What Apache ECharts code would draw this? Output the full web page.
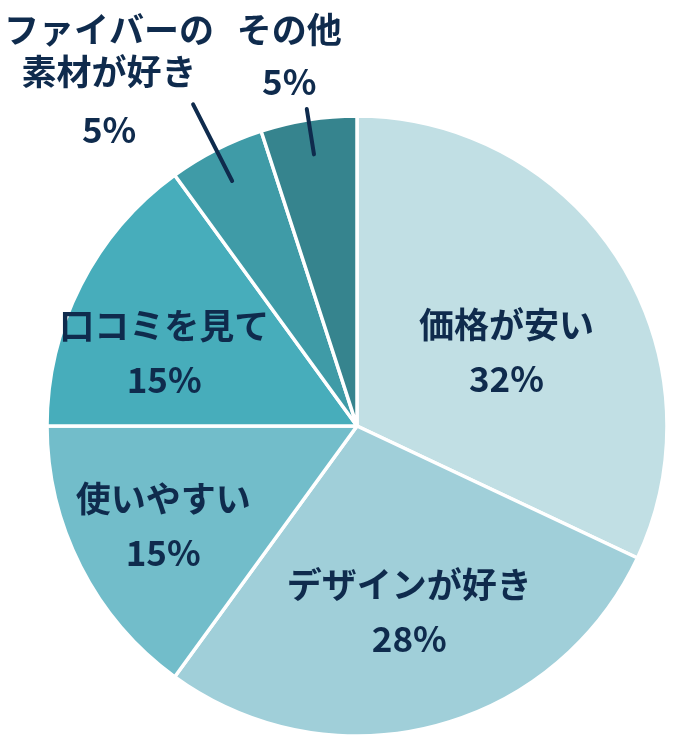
<!DOCTYPE html>
<html>
<head>
<meta charset="utf-8">
<script src="https://cdn.jsdelivr.net/npm/echarts@6/dist/echarts.min.js"></script>
<style>
html,body{margin:0;padding:0;background:#fff;}
#chart{width:676px;height:747px;}
</style>
</head>
<body>
<div id="chart"></div>
<script>
// Data
const categories = ['価格が安い', 'デザインが好き', '使いやすい', '口コミを見て', 'ファイバーの\n素材が好き', 'その他'];
const values = [32, 28, 15, 15, 5, 5];
const colors = ['#c1dfe4', '#a0cfd9', '#72bdca', '#47adbb', '#3f9ba7', '#36848e'];
const insideLabel = [true, true, true, true, false, false];

// Label fine-tuning (offsets in px)
const insideOffsets = [[16, 10], [13, 33], [-53, 28], [-52, -2], [0, 0], [0, 0]];
const outsideOffsets = [[0, 0], [0, 0], [0, 0], [0, 0], [21, -17], [35, -53]];
const lineLengths = [0, 0, 0, 0, 86, 46];

const textColor = '#0f2b4d';
const font = '"Noto Sans CJK JP", "Noto Sans", sans-serif';
const fs = 35;

function richInside(name, value) {
  return '{n|' + name + '}\n{p|' + value + '%}';
}
function richOutside(name, value) {
  const parts = name.split('\n');
  if (parts.length > 1) {
    return parts.map(s => '{n|' + s + '}').join('\n') + '\n{p|' + value + '%}';
  }
  return '{m|' + name + '}\n{q|' + value + '%}';
}

const mainData = categories.map((c, i) => ({
  name: c,
  value: values[i],
  itemStyle: { color: colors[i] },
  label: { show: insideLabel[i] }
}));

const helperData = categories.map((c, i) => ({
  name: c,
  value: values[i],
  label: { show: !insideLabel[i] },
  labelLine: { show: !insideLabel[i], length: lineLengths[i], length2: 0 }
}));

const base = { fontFamily: font, fontWeight: 'bold', fontSize: fs, color: textColor, align: 'center' };

const chart = echarts.init(document.getElementById('chart'), null, { renderer: 'canvas' });
chart.setOption({
  animation: false,
  backgroundColor: '#ffffff',
  series: [
    {
      type: 'pie',
      center: [357, 426],
      radius: [0, 310],
      startAngle: 90,
      clockwise: true,
      avoidLabelOverlap: false,
      silent: true,
      data: mainData,
      itemStyle: { borderColor: '#ffffff', borderWidth: 3.5 },
      label: {
        position: 'inside',
        formatter: p => richInside(p.name, p.value),
        rich: {
          n: Object.assign({}, base, { lineHeight: 54 }),
          p: Object.assign({}, base, { lineHeight: 54 })
        }
      },
      labelLine: { show: false },
      labelLayout: p => ({ dx: insideOffsets[p.dataIndex][0], dy: insideOffsets[p.dataIndex][1] })
    },
    {
      type: 'pie',
      center: [357, 426],
      radius: [0, 275],
      startAngle: 90,
      clockwise: true,
      avoidLabelOverlap: false,
      silent: true,
      z: 3,
      data: helperData,
      itemStyle: { color: 'rgba(0,0,0,0)', borderWidth: 0 },
      label: {
        position: 'outside',
        distanceToLabelLine: 0,
        formatter: p => richOutside(p.name, p.value),
        rich: {
          n: Object.assign({}, base, { lineHeight: 42 }),
          p: Object.assign({}, base, { lineHeight: 74 }),
          m: Object.assign({}, base, { lineHeight: 52 }),
          q: Object.assign({}, base, { lineHeight: 52 })
        }
      },
      labelLine: {
        show: true,
        smooth: false,
        lineStyle: { color: textColor, width: 4, cap: 'round' }
      },
      labelLayout: p => ({ dx: outsideOffsets[p.dataIndex][0], dy: outsideOffsets[p.dataIndex][1] })
    }
  ]
});
</script>
</body>
</html>
